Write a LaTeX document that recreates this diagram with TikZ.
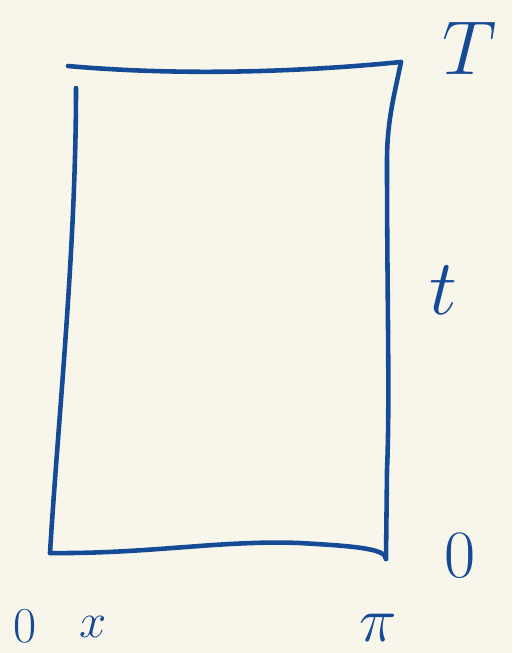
\documentclass[tikz,border=0pt]{standalone}
\usepackage{amsmath,amssymb}
\usepackage{graphicx}
\usepackage{tikz}
\usetikzlibrary{positioning,calc}
\usepackage{xcolor}
\definecolor{inkblue}{RGB}{20,74,150}
\definecolor{paper}{RGB}{248,246,234}
\tikzset{
    ink/.style={draw=inkblue, line width=2.6pt, line cap=round, line join=round},
    lbl/.style={text=inkblue, inner sep=0pt, font=\Huge},
}

\begin{document}
\begin{tikzpicture}[x=0.02cm, y=-0.02cm]
    \fill[paper] (0,0) rectangle (512,653);
    \useasboundingbox (0,0) rectangle (512,653);
    % corners of the domain
    \coordinate (tl) at (68,66);
    \coordinate (tr) at (401,62);
    \coordinate (lt) at (76,88);
    \coordinate (bl) at (50,553);
    \coordinate (br) at (386,559);
    % sides
    \draw[ink] (tl) .. controls (180,76) and (300,72) .. (tr);
    \draw[ink] (lt) .. controls (76,250) and (58,420) .. (bl);
    \draw[ink] (bl) .. controls (150,554) and (220,540) .. (300,543) .. controls (350,546) and (386,548) .. (br);
    \draw[ink] (tr) .. controls (395,92) and (387,120) .. (387,160) .. controls (387,300) and (390,400) .. (387,470) -- (br);
    % labels
    \node[lbl] (T) at (470,48) {\scalebox{1.75}{$T$}};
    \node[lbl] (t) at (443,290) {\scalebox{1.8}{$t$}};
    \node[lbl] (t0) at (460,556) {\scalebox{1.55}{$0$}};
    \node[lbl] (x0) at (25,626) {\scalebox{1.15}{$0$}};
    \node[lbl] (x) at (93,627) {\scalebox{1.12}{$x$}};
    \node[lbl] (xpi) at (378,628) {\scalebox{1.45}{$\pi$}};
\end{tikzpicture}
\end{document}
